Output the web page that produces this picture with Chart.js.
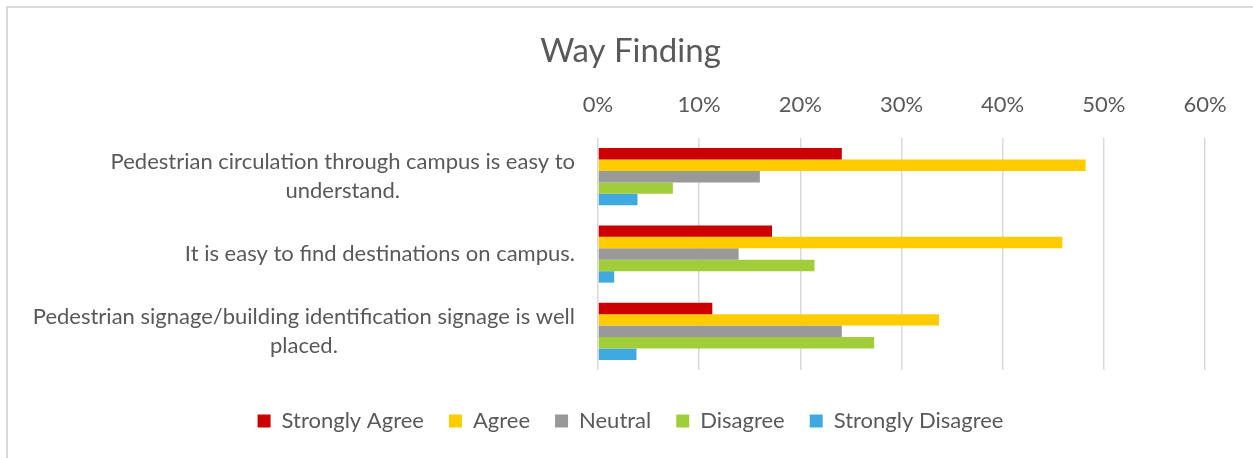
<!DOCTYPE html>
<html>
<head>
<meta charset="utf-8">
<script src="https://cdn.jsdelivr.net/npm/chart.js@4/dist/chart.umd.min.js"></script>
<style>
  html, body { margin: 0; padding: 0; background: #fff; }
  #wrap { position: relative; width: 1253px; height: 458px; }
  #frame { position: absolute; left: 6px; top: 6px; right: 0; bottom: 0;
           border-top: 2px solid #d9d9d9; border-left: 2px solid #d9d9d9; }
  canvas { position: absolute; left: 0; top: 0; }
</style>
</head>
<body>
<div id="wrap">
  <div id="frame"></div>
  <canvas id="wayChart" width="1253" height="458"></canvas>
</div>
<script>
const categories = [
  ['Pedestrian circulation through campus is easy to', 'understand.'],
  ['It is easy to find destinations on campus.'],
  ['Pedestrian signage/building identification signage is well', 'placed.']
];
const seriesNames = ['Strongly Agree', 'Agree', 'Neutral', 'Disagree', 'Strongly Disagree'];
const stronglyAgree = [0.241, 0.172, 0.113];
const agree = [0.482, 0.459, 0.337];
const neutral = [0.160, 0.139, 0.241];
const disagree = [0.074, 0.214, 0.273];
const stronglyDisagree = [0.039, 0.016, 0.038];
const xTicks = [0, 0.1, 0.2, 0.3, 0.4, 0.5, 0.6];

const colors = ['#CC0000', '#FFCC00', '#999999', '#A2CD3A', '#3FA9E0'];
const textColor = '#595959';
const fontFamily = 'Lato, "Open Sans", sans-serif';

// category labels: each line centred, block right-aligned next to the axis
const categoryLabels = {
  id: 'categoryLabels',
  afterDraw(chart) {
    const ctx = chart.ctx;
    const y = chart.scales.y;
    ctx.save();
    ctx.font = '22px ' + fontFamily;
    ctx.fillStyle = textColor;
    ctx.textAlign = 'center';
    ctx.textBaseline = 'middle';
    categories.forEach((lines, i) => {
      const w = Math.max(...lines.map(l => ctx.measureText(l).width));
      const cx = y.right - 23 - w / 2;
      const cy = y.getPixelForTick(i);
      lines.forEach((l, j) => {
        ctx.fillText(l, cx, cy + (j - (lines.length - 1) / 2) * 29);
      });
    });
    ctx.restore();
  }
};

const data = [stronglyAgree, agree, neutral, disagree, stronglyDisagree];

new Chart(document.getElementById('wayChart'), {
  type: 'bar',
  data: {
    labels: categories.map(c => c.join(' ')),
    datasets: seriesNames.map((name, i) => ({
      label: name,
      data: data[i],
      backgroundColor: colors[i],
      borderWidth: 0,
      categoryPercentage: 0.74,
      barPercentage: 1
    }))
  },
  options: {
    indexAxis: 'y',
    responsive: false,
    animation: false,
    layout: { padding: { top: 0, right: 0, bottom: 16, left: 8 } },
    scales: {
      x: {
        position: 'top',
        min: 0,
        max: 0.6,
        afterBuildTicks: (scale) => { scale.ticks = xTicks.map(v => ({ value: v })); },
        ticks: {
          padding: 20,
          color: textColor,
          font: { family: fontFamily, size: 22 },
          callback: (v) => Math.round(v * 100) + '%'
        },
        grid: { color: '#d9d9d9', lineWidth: 1.5, drawTicks: false },
        border: { display: false }
      },
      y: {
        ticks: { display: false },
        grid: { display: false },
        border: { display: false },
        afterFit: (scale) => { scale.width = 590; }
      },
      // empty right-hand axis, only keeps space right of the plot
      y2: {
        type: 'linear',
        position: 'right',
        ticks: { display: false },
        grid: { display: false },
        border: { display: false },
        afterFit: (scale) => { scale.width = 48; }
      }
    },
    plugins: {
      title: {
        display: true,
        text: 'Way Finding',
        color: textColor,
        font: { family: fontFamily, size: 33, weight: 'normal' },
        padding: { top: 32, bottom: 0 }
      },
      legend: {
        position: 'bottom',
        title: { display: true, text: '', font: { size: 12.5 }, padding: 0 },
        labels: {
          boxWidth: 13,
          boxHeight: 13,
          padding: 25,
          color: textColor,
          font: { family: fontFamily, size: 22 }
        }
      },
      tooltip: { enabled: false }
    }
  },
  plugins: [categoryLabels]
});
</script>
</body>
</html>
